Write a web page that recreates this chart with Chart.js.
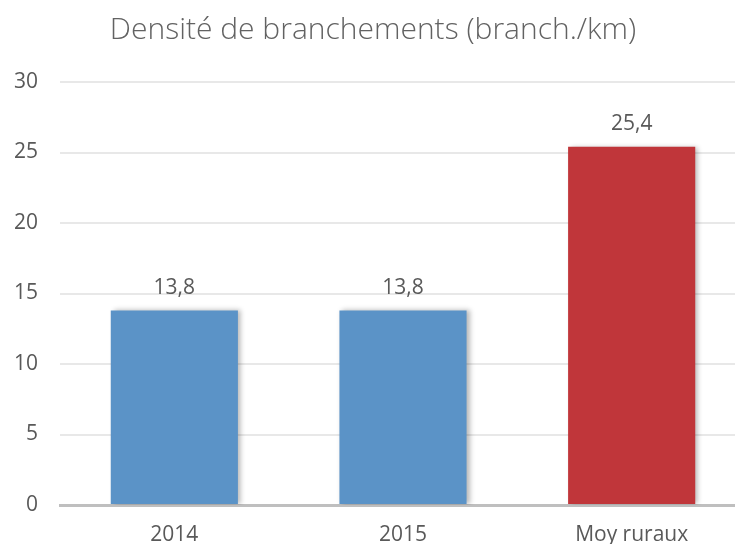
<!DOCTYPE html>
<html>
<head>
<meta charset="utf-8">
<script src="https://cdn.jsdelivr.net/npm/chart.js@4.4.1/dist/chart.umd.min.js"></script>
<style>
  html, body { margin: 0; padding: 0; overflow: hidden; background: #fff; }
  #wrap { width: 746px; height: 544px; }
</style>
</head>
<body>
<div id="wrap"><canvas id="myBarGraph"></canvas></div>
<script>
var categories = ["2014", "2015", "Moy ruraux"];
var values = [13.8, 13.8, 25.4];
var barColors = ["#5B93C7", "#5B93C7", "#C0363A"];
var yTicks = [0, 5, 10, 15, 20, 25, 30];

var textGrey = "#595959";
var fontName = "'Open Sans', sans-serif";

// shadow on the right of each bar + value label above it
var barExtras = {
    id: 'barExtras',
    beforeDatasetDraw: function(chart) {
        var ctx = chart.ctx;
        ctx.save();
        ctx.shadowColor = 'rgba(0,0,0,0.28)';
        ctx.shadowBlur = 5;
        ctx.shadowOffsetX = 3;
        ctx.shadowOffsetY = 0;
    },
    afterDatasetDraw: function(chart) {
        chart.ctx.restore();
    },
    afterDatasetsDraw: function(chart) {
        var ctx = chart.ctx;
        var meta = chart.getDatasetMeta(0);
        ctx.save();
        ctx.fillStyle = textGrey;
        ctx.font = "21px " + fontName;
        ctx.textAlign = 'center';
        ctx.textBaseline = 'bottom';
        meta.data.forEach(function(bar, i) {
            ctx.fillText(values[i].toFixed(1).replace('.', ','), bar.x, bar.y - 12);
        });
        ctx.restore();
    }
};

var graphConfig = {
    type: 'bar',
    data: {
        labels: categories,
        datasets: [{
            data: values,
            backgroundColor: barColors,
            barPercentage: 0.556,
            categoryPercentage: 1.0
        }]
    },
    options: {
        responsive: true,
        maintainAspectRatio: false,
        animation: false,
        layout: { padding: { left: 0, right: 0, top: 0, bottom: 0 } },
        plugins: {
            legend: { display: false },
            tooltip: { enabled: false },
            title: {
                display: true,
                text: 'Densité de branchements (branch./km)',
                color: '#626262',
                font: { family: fontName, size: 30, weight: 300, lineHeight: 1.2 },
                padding: { top: 12, bottom: 34 }
            }
        },
        scales: {
            x: {
                grid: { display: false },
                border: { color: '#BFBFBF', width: 3 },
                ticks: { color: textGrey, font: { family: fontName, size: 21 }, padding: 9 },
                afterFit: function(scale) { scale.height = 39; }
            },
            y: {
                min: 0,
                max: 30,
                afterBuildTicks: function(scale) {
                    scale.ticks = yTicks.map(function(v) { return { value: v }; });
                },
                grid: { color: '#E8E8E8', lineWidth: 2, drawTicks: false },
                border: { display: false },
                ticks: { color: textGrey, font: { family: fontName, size: 21 }, padding: 22 },
                afterFit: function(scale) { scale.width = 60; }
            }
        }
    },
    plugins: [barExtras]
};

var myChart = new Chart(document.getElementById("myBarGraph").getContext("2d"), graphConfig);
</script>
</body>
</html>
